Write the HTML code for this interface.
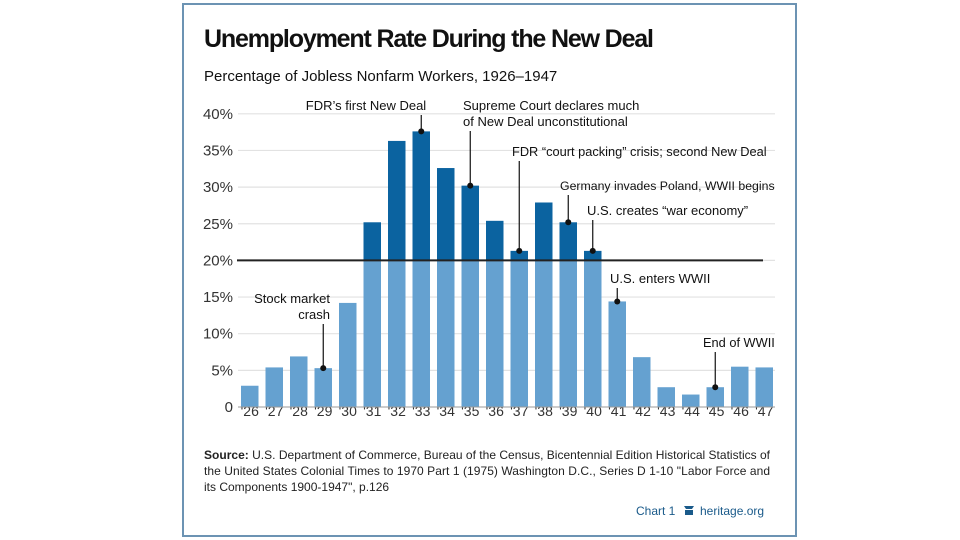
<!DOCTYPE html>
<html><head><meta charset="utf-8"><style>
html,body{margin:0;padding:0;background:#fff;width:960px;height:540px;overflow:hidden}
svg{display:block;font-family:"Liberation Sans",sans-serif}
</style></head><body>
<svg id="chart" width="960" height="540" viewBox="0 0 960 540">
<rect x="183" y="4" width="613" height="532" fill="#fff" stroke="#6c93b3" stroke-width="2"/>
<text x="204" y="47" font-size="25" font-weight="bold" fill="#111" textLength="450">Unemployment Rate During the New Deal</text>
<text x="204" y="81" font-size="15" fill="#111">Percentage of Jobless Nonfarm Workers, 1926–1947</text>
<g id="grid"></g><g id="bars"></g><g id="ann"></g>
<text x="204" y="459" font-size="12" fill="#222" textLength="566"><tspan font-weight="bold">Source:</tspan> U.S. Department of Commerce, Bureau of the Census, Bicentennial Edition Historical Statistics of</text>
<text x="204" y="475" font-size="12" fill="#222" textLength="566">the United States Colonial Times to 1970 Part 1 (1975) Washington D.C., Series D 1-10 "Labor Force and</text>
<text x="204" y="491" font-size="12" fill="#222">its Components 1900-1947", p.126</text>
<text x="636" y="515" font-size="12" fill="#1a5a8a">Chart 1</text>
<path d="M684 506 h10 l-2 3 h-6 z M685 510 h8 v5 h-8 z" fill="#1a5a8a"/>
<text x="700" y="515" font-size="12" fill="#1a5a8a">heritage.org</text>
</svg>
<script>
const years=["'26","'27","'28","'29","'30","'31","'32","'33","'34","'35","'36","'37","'38","'39","'40","'41","'42","'43","'44","'45","'46","'47"];
const rates=[2.9,5.4,6.9,5.3,14.2,25.2,36.3,37.6,32.6,30.2,25.4,21.3,27.9,25.2,21.3,14.4,6.8,2.7,1.7,2.7,5.5,5.4];
const ticks=[0,5,10,15,20,25,30,35,40];
const tickLabels=["0","5%","10%","15%","20%","25%","30%","35%","40%"];
const threshold=20;
const annIdx=[3,7,9,11,13,14,15,19];
const annText=[["Stock market","crash"],["FDR’s first New Deal"],["Supreme Court declares much","of New Deal unconstitutional"],["FDR “court packing” crisis; second New Deal"],["Germany invades Poland, WWII begins"],["U.S. creates “war economy”"],["U.S. enters WWII"],["End of WWII"]];
const NS="http://www.w3.org/2000/svg";
const y0=407,pxPer=7.33,bx0=241,pitch=24.5,bw=17.5;
const Y=v=>y0-v*pxPer;
const X=i=>bx0+i*pitch;
function mk(tag,attrs,parent){const e=document.createElementNS(NS,tag);for(const k in attrs)e.setAttribute(k,attrs[k]);parent.appendChild(e);return e;}
const grid=document.getElementById('grid'),bars=document.getElementById('bars'),ann=document.getElementById('ann');
ticks.forEach((t,i)=>{
  if(t>0){const l=mk('line',{x1:238,x2:775,y1:Y(t),y2:Y(t),stroke:'#e2e2e2','stroke-width':1.2},grid);
  
  }
  const tx=mk('text',{x:233,y:Y(t)+5,'font-size':15,'text-anchor':'end',fill:'#333'},grid);
  tx.textContent=tickLabels[i];
  
  
});
rates.forEach((v,i)=>{
  const lo=Math.min(v,threshold);
  const r=mk('rect',{x:X(i),y:Y(lo),width:bw,height:Y(0)-Y(lo),fill:'#65a1d0'},bars);
  
  
  if(v>threshold){const d=mk('rect',{x:X(i),y:Y(v),width:bw,height:Y(threshold)-Y(v),fill:'#0b63a0'},bars);
  
  }
  const t=mk('text',{x:X(i)+bw/2,y:416,'font-size':14,'text-anchor':'middle',fill:'#333'},bars);
  t.textContent=years[i];
  
  
});
const th=mk('line',{x1:237,x2:763,y1:Y(threshold),y2:Y(threshold),stroke:'#222','stroke-width':2},bars);


const axis=mk('line',{x1:238,x2:775,y1:y0,y2:y0,stroke:'#999','stroke-width':1},bars);


const annPos=[[330,303,'end',13],[366,110,'middle',13],[463,110,'start',13],[512,156,'start',12.8],[560,190,'start',12.3],[587,215,'start',13],[610,283,'start',13],[703,347,'start',12.8]];
annIdx.forEach((idx,k)=>{
  const g=mk('g',{},ann);
  
  
  const [tx,ty,anc,fs]=annPos[k];
  annText[k].forEach((line,j)=>{const t=mk('text',{x:tx,y:ty+j*16,'font-size':fs,'text-anchor':anc,fill:'#111'},g);t.textContent=line;});
  const cx=X(idx)+bw/2,cy=Y(rates[idx]);
  const top=ty+(annText[k].length-1)*16+5;
  mk('line',{x1:cx,x2:cx,y1:top,y2:cy,stroke:'#111','stroke-width':1.2},g);
  mk('circle',{cx:cx,cy:cy,r:3,fill:'#111'},g);
});
</script>
</body></html>
